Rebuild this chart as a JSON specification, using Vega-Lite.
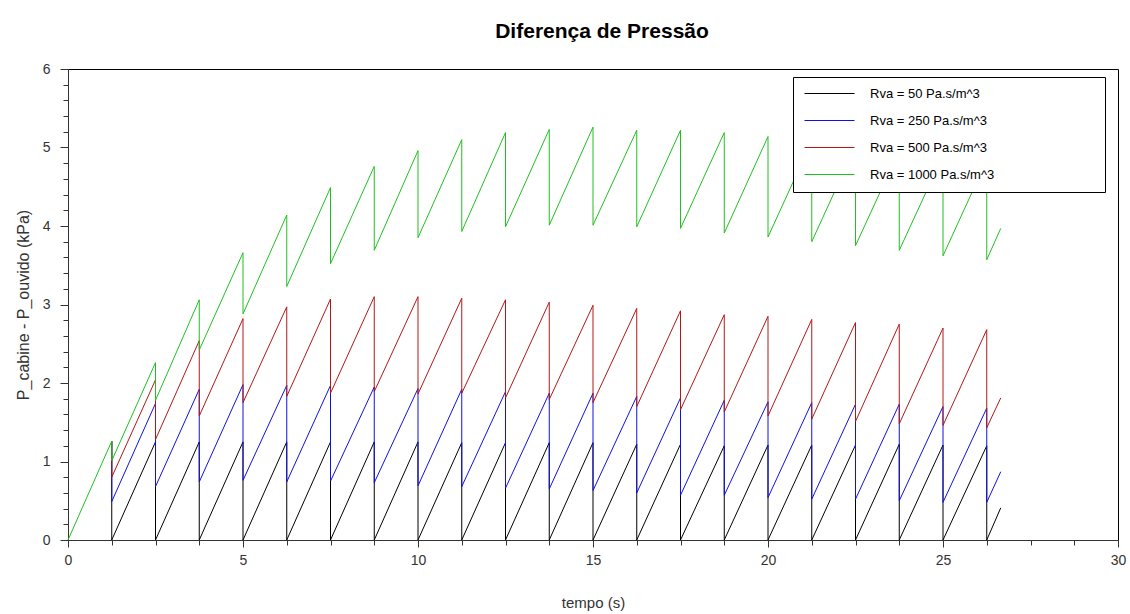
{
  "$schema": "https://vega.github.io/schema/vega-lite/v6.json",
  "width": 1050,
  "height": 471,
  "autosize": {"type": "none"},
  "padding": {"left": 68, "top": 69, "right": 12, "bottom": 74},
  "background": "white",
  "title": {"text": "Diferença de Pressão", "fontSize": 21, "fontWeight": "bold", "font": "Liberation Sans", "anchor": "middle", "frame": "group", "baseline": "alphabetic", "offset": 3, "dx": 9, "color": "#000"},
  "config": {
    "font": "Liberation Sans",
    "view": {"stroke": "#000", "strokeWidth": 1},
    "axis": {"grid": false, "domainColor": "#333", "tickColor": "#333", "labelColor": "#333", "titleColor": "#333", "labelFontSize": 14, "titleFontSize": 15, "titleFontWeight": "normal", "labelFont": "Liberation Sans", "titleFont": "Liberation Sans"}
  },
  "data": {"values": [
    {"s":"Rva = 50 Pa.s/m^3","i":1,"t":1.25,"p":1.26},{"s":"Rva = 50 Pa.s/m^3","i":2,"t":1.25,"p":0},
    {"s":"Rva = 50 Pa.s/m^3","i":3,"t":2.5,"p":1.25},{"s":"Rva = 50 Pa.s/m^3","i":4,"t":2.5,"p":0},
    {"s":"Rva = 50 Pa.s/m^3","i":5,"t":3.75,"p":1.25},{"s":"Rva = 50 Pa.s/m^3","i":6,"t":3.75,"p":0},
    {"s":"Rva = 50 Pa.s/m^3","i":7,"t":5,"p":1.25},{"s":"Rva = 50 Pa.s/m^3","i":8,"t":5,"p":0},
    {"s":"Rva = 50 Pa.s/m^3","i":9,"t":6.25,"p":1.25},{"s":"Rva = 50 Pa.s/m^3","i":10,"t":6.25,"p":0},
    {"s":"Rva = 50 Pa.s/m^3","i":11,"t":7.5,"p":1.25},{"s":"Rva = 50 Pa.s/m^3","i":12,"t":7.5,"p":0},
    {"s":"Rva = 50 Pa.s/m^3","i":13,"t":8.75,"p":1.25},{"s":"Rva = 50 Pa.s/m^3","i":14,"t":8.75,"p":0},
    {"s":"Rva = 50 Pa.s/m^3","i":15,"t":10,"p":1.25},{"s":"Rva = 50 Pa.s/m^3","i":16,"t":10,"p":0},
    {"s":"Rva = 50 Pa.s/m^3","i":17,"t":11.25,"p":1.24},{"s":"Rva = 50 Pa.s/m^3","i":18,"t":11.25,"p":0},
    {"s":"Rva = 50 Pa.s/m^3","i":19,"t":12.5,"p":1.24},{"s":"Rva = 50 Pa.s/m^3","i":20,"t":12.5,"p":0},
    {"s":"Rva = 50 Pa.s/m^3","i":21,"t":13.75,"p":1.24},{"s":"Rva = 50 Pa.s/m^3","i":22,"t":13.75,"p":0},
    {"s":"Rva = 50 Pa.s/m^3","i":23,"t":15,"p":1.24},{"s":"Rva = 50 Pa.s/m^3","i":24,"t":15,"p":0},
    {"s":"Rva = 50 Pa.s/m^3","i":25,"t":16.25,"p":1.22},{"s":"Rva = 50 Pa.s/m^3","i":26,"t":16.25,"p":0},
    {"s":"Rva = 50 Pa.s/m^3","i":27,"t":17.5,"p":1.22},{"s":"Rva = 50 Pa.s/m^3","i":28,"t":17.5,"p":0},
    {"s":"Rva = 50 Pa.s/m^3","i":29,"t":18.75,"p":1.2},{"s":"Rva = 50 Pa.s/m^3","i":30,"t":18.75,"p":0},
    {"s":"Rva = 50 Pa.s/m^3","i":31,"t":20,"p":1.21},{"s":"Rva = 50 Pa.s/m^3","i":32,"t":20,"p":0},
    {"s":"Rva = 50 Pa.s/m^3","i":33,"t":21.25,"p":1.21},{"s":"Rva = 50 Pa.s/m^3","i":34,"t":21.25,"p":0},
    {"s":"Rva = 50 Pa.s/m^3","i":35,"t":22.5,"p":1.21},{"s":"Rva = 50 Pa.s/m^3","i":36,"t":22.5,"p":0},
    {"s":"Rva = 50 Pa.s/m^3","i":37,"t":23.75,"p":1.22},{"s":"Rva = 50 Pa.s/m^3","i":38,"t":23.75,"p":0},
    {"s":"Rva = 50 Pa.s/m^3","i":39,"t":25,"p":1.21},{"s":"Rva = 50 Pa.s/m^3","i":40,"t":25,"p":0},
    {"s":"Rva = 50 Pa.s/m^3","i":41,"t":26.25,"p":1.2},{"s":"Rva = 50 Pa.s/m^3","i":42,"t":26.25,"p":0},
    {"s":"Rva = 50 Pa.s/m^3","i":43,"t":26.65,"p":0.41},

    {"s":"Rva = 250 Pa.s/m^3","i":1,"t":1.25,"p":1.26},{"s":"Rva = 250 Pa.s/m^3","i":2,"t":1.25,"p":0.49},
    {"s":"Rva = 250 Pa.s/m^3","i":3,"t":2.5,"p":1.74},{"s":"Rva = 250 Pa.s/m^3","i":4,"t":2.5,"p":0.68},
    {"s":"Rva = 250 Pa.s/m^3","i":5,"t":3.75,"p":1.92},{"s":"Rva = 250 Pa.s/m^3","i":6,"t":3.75,"p":0.74},
    {"s":"Rva = 250 Pa.s/m^3","i":7,"t":5,"p":1.98},{"s":"Rva = 250 Pa.s/m^3","i":8,"t":5,"p":0.76},
    {"s":"Rva = 250 Pa.s/m^3","i":9,"t":6.25,"p":1.97},{"s":"Rva = 250 Pa.s/m^3","i":10,"t":6.25,"p":0.74},
    {"s":"Rva = 250 Pa.s/m^3","i":11,"t":7.5,"p":1.97},{"s":"Rva = 250 Pa.s/m^3","i":12,"t":7.5,"p":0.75},
    {"s":"Rva = 250 Pa.s/m^3","i":13,"t":8.75,"p":1.95},{"s":"Rva = 250 Pa.s/m^3","i":14,"t":8.75,"p":0.73},
    {"s":"Rva = 250 Pa.s/m^3","i":15,"t":10,"p":1.93},{"s":"Rva = 250 Pa.s/m^3","i":16,"t":10,"p":0.69},
    {"s":"Rva = 250 Pa.s/m^3","i":17,"t":11.25,"p":1.92},{"s":"Rva = 250 Pa.s/m^3","i":18,"t":11.25,"p":0.68},
    {"s":"Rva = 250 Pa.s/m^3","i":19,"t":12.5,"p":1.89},{"s":"Rva = 250 Pa.s/m^3","i":20,"t":12.5,"p":0.66},
    {"s":"Rva = 250 Pa.s/m^3","i":21,"t":13.75,"p":1.87},{"s":"Rva = 250 Pa.s/m^3","i":22,"t":13.75,"p":0.65},
    {"s":"Rva = 250 Pa.s/m^3","i":23,"t":15,"p":1.87},{"s":"Rva = 250 Pa.s/m^3","i":24,"t":15,"p":0.63},
    {"s":"Rva = 250 Pa.s/m^3","i":25,"t":16.25,"p":1.83},{"s":"Rva = 250 Pa.s/m^3","i":26,"t":16.25,"p":0.6},
    {"s":"Rva = 250 Pa.s/m^3","i":27,"t":17.5,"p":1.81},{"s":"Rva = 250 Pa.s/m^3","i":28,"t":17.5,"p":0.57},
    {"s":"Rva = 250 Pa.s/m^3","i":29,"t":18.75,"p":1.78},{"s":"Rva = 250 Pa.s/m^3","i":30,"t":18.75,"p":0.57},
    {"s":"Rva = 250 Pa.s/m^3","i":31,"t":20,"p":1.76},{"s":"Rva = 250 Pa.s/m^3","i":32,"t":20,"p":0.54},
    {"s":"Rva = 250 Pa.s/m^3","i":33,"t":21.25,"p":1.75},{"s":"Rva = 250 Pa.s/m^3","i":34,"t":21.25,"p":0.52},
    {"s":"Rva = 250 Pa.s/m^3","i":35,"t":22.5,"p":1.73},{"s":"Rva = 250 Pa.s/m^3","i":36,"t":22.5,"p":0.52},
    {"s":"Rva = 250 Pa.s/m^3","i":37,"t":23.75,"p":1.73},{"s":"Rva = 250 Pa.s/m^3","i":38,"t":23.75,"p":0.5},
    {"s":"Rva = 250 Pa.s/m^3","i":39,"t":25,"p":1.7},{"s":"Rva = 250 Pa.s/m^3","i":40,"t":25,"p":0.48},
    {"s":"Rva = 250 Pa.s/m^3","i":41,"t":26.25,"p":1.68},{"s":"Rva = 250 Pa.s/m^3","i":42,"t":26.25,"p":0.48},
    {"s":"Rva = 250 Pa.s/m^3","i":43,"t":26.65,"p":0.87},

    {"s":"Rva = 500 Pa.s/m^3","i":1,"t":1.25,"p":1.26},{"s":"Rva = 500 Pa.s/m^3","i":2,"t":1.25,"p":0.8},
    {"s":"Rva = 500 Pa.s/m^3","i":3,"t":2.5,"p":2.04},{"s":"Rva = 500 Pa.s/m^3","i":4,"t":2.5,"p":1.28},
    {"s":"Rva = 500 Pa.s/m^3","i":5,"t":3.75,"p":2.54},{"s":"Rva = 500 Pa.s/m^3","i":6,"t":3.75,"p":1.58},
    {"s":"Rva = 500 Pa.s/m^3","i":7,"t":5,"p":2.82},{"s":"Rva = 500 Pa.s/m^3","i":8,"t":5,"p":1.75},
    {"s":"Rva = 500 Pa.s/m^3","i":9,"t":6.25,"p":2.97},{"s":"Rva = 500 Pa.s/m^3","i":10,"t":6.25,"p":1.83},
    {"s":"Rva = 500 Pa.s/m^3","i":11,"t":7.5,"p":3.07},{"s":"Rva = 500 Pa.s/m^3","i":12,"t":7.5,"p":1.87},
    {"s":"Rva = 500 Pa.s/m^3","i":13,"t":8.75,"p":3.1},{"s":"Rva = 500 Pa.s/m^3","i":14,"t":8.75,"p":1.89},
    {"s":"Rva = 500 Pa.s/m^3","i":15,"t":10,"p":3.1},{"s":"Rva = 500 Pa.s/m^3","i":16,"t":10,"p":1.86},
    {"s":"Rva = 500 Pa.s/m^3","i":17,"t":11.25,"p":3.08},{"s":"Rva = 500 Pa.s/m^3","i":18,"t":11.25,"p":1.87},
    {"s":"Rva = 500 Pa.s/m^3","i":19,"t":12.5,"p":3.06},{"s":"Rva = 500 Pa.s/m^3","i":20,"t":12.5,"p":1.81},
    {"s":"Rva = 500 Pa.s/m^3","i":21,"t":13.75,"p":3.03},{"s":"Rva = 500 Pa.s/m^3","i":22,"t":13.75,"p":1.79},
    {"s":"Rva = 500 Pa.s/m^3","i":23,"t":15,"p":2.99},{"s":"Rva = 500 Pa.s/m^3","i":24,"t":15,"p":1.75},
    {"s":"Rva = 500 Pa.s/m^3","i":25,"t":16.25,"p":2.95},{"s":"Rva = 500 Pa.s/m^3","i":26,"t":16.25,"p":1.7},
    {"s":"Rva = 500 Pa.s/m^3","i":27,"t":17.5,"p":2.92},{"s":"Rva = 500 Pa.s/m^3","i":28,"t":17.5,"p":1.66},
    {"s":"Rva = 500 Pa.s/m^3","i":29,"t":18.75,"p":2.87},{"s":"Rva = 500 Pa.s/m^3","i":30,"t":18.75,"p":1.63},
    {"s":"Rva = 500 Pa.s/m^3","i":31,"t":20,"p":2.85},{"s":"Rva = 500 Pa.s/m^3","i":32,"t":20,"p":1.58},
    {"s":"Rva = 500 Pa.s/m^3","i":33,"t":21.25,"p":2.81},{"s":"Rva = 500 Pa.s/m^3","i":34,"t":21.25,"p":1.54},
    {"s":"Rva = 500 Pa.s/m^3","i":35,"t":22.5,"p":2.77},{"s":"Rva = 500 Pa.s/m^3","i":36,"t":22.5,"p":1.51},
    {"s":"Rva = 500 Pa.s/m^3","i":37,"t":23.75,"p":2.75},{"s":"Rva = 500 Pa.s/m^3","i":38,"t":23.75,"p":1.48},
    {"s":"Rva = 500 Pa.s/m^3","i":39,"t":25,"p":2.7},{"s":"Rva = 500 Pa.s/m^3","i":40,"t":25,"p":1.46},
    {"s":"Rva = 500 Pa.s/m^3","i":41,"t":26.25,"p":2.68},{"s":"Rva = 500 Pa.s/m^3","i":42,"t":26.25,"p":1.43},
    {"s":"Rva = 500 Pa.s/m^3","i":43,"t":26.65,"p":1.81},

    {"s":"Rva = 1000 Pa.s/m^3","i":0,"t":0,"p":0},
    {"s":"Rva = 1000 Pa.s/m^3","i":1,"t":1.25,"p":1.26},{"s":"Rva = 1000 Pa.s/m^3","i":2,"t":1.25,"p":1.01},
    {"s":"Rva = 1000 Pa.s/m^3","i":3,"t":2.5,"p":2.26},{"s":"Rva = 1000 Pa.s/m^3","i":4,"t":2.5,"p":1.78},
    {"s":"Rva = 1000 Pa.s/m^3","i":5,"t":3.75,"p":3.06},{"s":"Rva = 1000 Pa.s/m^3","i":6,"t":3.75,"p":2.42},
    {"s":"Rva = 1000 Pa.s/m^3","i":7,"t":5,"p":3.66},{"s":"Rva = 1000 Pa.s/m^3","i":8,"t":5,"p":2.88},
    {"s":"Rva = 1000 Pa.s/m^3","i":9,"t":6.25,"p":4.14},{"s":"Rva = 1000 Pa.s/m^3","i":10,"t":6.25,"p":3.23},
    {"s":"Rva = 1000 Pa.s/m^3","i":11,"t":7.5,"p":4.49},{"s":"Rva = 1000 Pa.s/m^3","i":12,"t":7.5,"p":3.52},
    {"s":"Rva = 1000 Pa.s/m^3","i":13,"t":8.75,"p":4.76},{"s":"Rva = 1000 Pa.s/m^3","i":14,"t":8.75,"p":3.69},
    {"s":"Rva = 1000 Pa.s/m^3","i":15,"t":10,"p":4.96},{"s":"Rva = 1000 Pa.s/m^3","i":16,"t":10,"p":3.85},
    {"s":"Rva = 1000 Pa.s/m^3","i":17,"t":11.25,"p":5.1},{"s":"Rva = 1000 Pa.s/m^3","i":18,"t":11.25,"p":3.93},
    {"s":"Rva = 1000 Pa.s/m^3","i":19,"t":12.5,"p":5.19},{"s":"Rva = 1000 Pa.s/m^3","i":20,"t":12.5,"p":3.99},
    {"s":"Rva = 1000 Pa.s/m^3","i":21,"t":13.75,"p":5.23},{"s":"Rva = 1000 Pa.s/m^3","i":22,"t":13.75,"p":4.01},
    {"s":"Rva = 1000 Pa.s/m^3","i":23,"t":15,"p":5.26},{"s":"Rva = 1000 Pa.s/m^3","i":24,"t":15,"p":4.01},
    {"s":"Rva = 1000 Pa.s/m^3","i":25,"t":16.25,"p":5.22},{"s":"Rva = 1000 Pa.s/m^3","i":26,"t":16.25,"p":3.99},
    {"s":"Rva = 1000 Pa.s/m^3","i":27,"t":17.5,"p":5.22},{"s":"Rva = 1000 Pa.s/m^3","i":28,"t":17.5,"p":3.97},
    {"s":"Rva = 1000 Pa.s/m^3","i":29,"t":18.75,"p":5.19},{"s":"Rva = 1000 Pa.s/m^3","i":30,"t":18.75,"p":3.91},
    {"s":"Rva = 1000 Pa.s/m^3","i":31,"t":20,"p":5.14},{"s":"Rva = 1000 Pa.s/m^3","i":32,"t":20,"p":3.86},
    {"s":"Rva = 1000 Pa.s/m^3","i":33,"t":21.25,"p":5.08},{"s":"Rva = 1000 Pa.s/m^3","i":34,"t":21.25,"p":3.8},
    {"s":"Rva = 1000 Pa.s/m^3","i":35,"t":22.5,"p":5.02},{"s":"Rva = 1000 Pa.s/m^3","i":36,"t":22.5,"p":3.75},
    {"s":"Rva = 1000 Pa.s/m^3","i":37,"t":23.75,"p":4.96},{"s":"Rva = 1000 Pa.s/m^3","i":38,"t":23.75,"p":3.69},
    {"s":"Rva = 1000 Pa.s/m^3","i":39,"t":25,"p":4.9},{"s":"Rva = 1000 Pa.s/m^3","i":40,"t":25,"p":3.62},
    {"s":"Rva = 1000 Pa.s/m^3","i":41,"t":26.25,"p":4.84},{"s":"Rva = 1000 Pa.s/m^3","i":42,"t":26.25,"p":3.57},
    {"s":"Rva = 1000 Pa.s/m^3","i":43,"t":26.65,"p":3.97}
  ]},
  "encoding": {
    "x": {"field": "t", "type": "quantitative", "scale": {"domain": [0, 30], "nice": false},
      "axis": {"title": "tempo (s)", "values": [0,1.25,2.5,3.75,5,6.25,7.5,8.75,10,11.25,12.5,13.75,15,16.25,17.5,18.75,20,21.25,22.5,23.75,25,26.25,27.5,28.75,30],
        "labelExpr": "datum.value % 5 == 0 ? format(datum.value, 'd') : ''",
        "tickSize": {"condition": {"test": "datum.value % 5 == 0", "value": 7}, "value": 5},
        "labelPadding": 6, "titlePadding": 28, "labelFlush": false}},
    "y": {"field": "p", "type": "quantitative", "scale": {"domain": [0, 6], "nice": false},
      "axis": {"title": "P_cabine - P_ouvido (kPa)", "titleFontSize": 16, "values": [0,0.2,0.4,0.6,0.8,1,1.2,1.4,1.6,1.8,2,2.2,2.4,2.6,2.8,3,3.2,3.4,3.6,3.8,4,4.2,4.4,4.6,4.8,5,5.2,5.4,5.6,5.8,6],
        "labelExpr": "abs(datum.value - round(datum.value)) < 0.001 ? format(round(datum.value), 'd') : ''",
        "tickSize": {"condition": {"test": "abs(datum.value - round(datum.value)) < 0.001", "value": 8}, "value": 5},
        "labelPadding": 10, "titlePadding": 11, "labelFlush": false}},
    "color": {"field": "s", "type": "nominal",
      "scale": {"domain": ["Rva = 50 Pa.s/m^3", "Rva = 250 Pa.s/m^3", "Rva = 500 Pa.s/m^3", "Rva = 1000 Pa.s/m^3"], "range": ["#000000", "#1010e0", "#b01818", "#20c020"]},
      "legend": {"title": null, "orient": "none", "legendX": 725, "legendY": 8, "strokeColor": "#000", "fillColor": "#fff", "padding": 10,
        "symbolType": "M-1,0L9,0", "symbolSize": 100, "symbolStrokeWidth": 1, "labelOffset": 54, "labelFontSize": 13, "labelFont": "Liberation Sans", "labelColor": "#000", "labelLimit": 0, "rowPadding": 13,
        "labelExpr": "datum.label + '\u2800\u2800\u2800\u2800\u2800\u2800\u2800\u2800\u2800\u2800'"}},
    "order": {"field": "i", "type": "quantitative"}
  },
  "layer": [
    {"transform": [{"filter": "datum.s == 'Rva = 50 Pa.s/m^3'"}], "mark": {"type": "line", "strokeWidth": 1}},
    {"transform": [{"filter": "datum.s == 'Rva = 250 Pa.s/m^3'"}], "mark": {"type": "line", "strokeWidth": 1}},
    {"transform": [{"filter": "datum.s == 'Rva = 500 Pa.s/m^3'"}], "mark": {"type": "line", "strokeWidth": 1}},
    {"transform": [{"filter": "datum.s == 'Rva = 1000 Pa.s/m^3'"}], "mark": {"type": "line", "strokeWidth": 1}}
  ]
}
